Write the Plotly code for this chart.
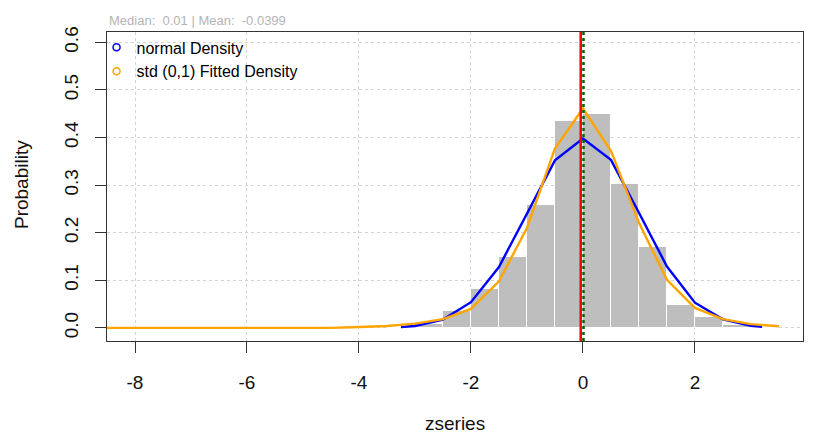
import plotly.graph_objects as go

# ---------------- data ----------------
bin_left = [-8.5, -3.5, -3.0, -2.5, -2.0, -1.5, -1.0, -0.5, 0.0, 0.5, 1.0, 1.5, 2.0, 2.5, 3.0]
bin_density = [0.001, 0.002, 0.008, 0.036, 0.082, 0.149, 0.259, 0.435, 0.449, 0.302, 0.169, 0.049, 0.022, 0.006, 0.002]
bin_width = 0.5

normal_x = [-3.25, -3.0, -2.5, -2.0, -1.5, -1.0, -0.5, 0.0, 0.5, 1.0, 1.5, 2.0, 2.5, 3.0, 3.2]
normal_y = [0.002, 0.004, 0.0175, 0.054, 0.128, 0.240, 0.352, 0.398, 0.353, 0.242, 0.129, 0.053, 0.018, 0.0045, 0.0024]

fitted_x = [-8.5, -4.5, -4.0, -3.5, -3.0, -2.5, -2.0, -1.5, -1.0, -0.5, 0.0, 0.5, 1.0, 1.5, 2.0, 2.5, 3.0, 3.5]
fitted_y = [0.0, 0.0, 0.002, 0.004, 0.009, 0.0185, 0.040, 0.098, 0.210, 0.377, 0.461, 0.372, 0.221, 0.101, 0.042, 0.0185, 0.008, 0.0035]

series_mean = -0.0399
series_median = 0.01

x_ticks = [-8, -6, -4, -2, 0, 2]
x_ticklabels = ["-8", "-6", "-4", "-2", "0", "2"]
y_ticks = [0.0, 0.1, 0.2, 0.3, 0.4, 0.5, 0.6]
y_ticklabels = ["0.0", "0.1", "0.2", "0.3", "0.4", "0.5", "0.6"]

FONT = "Liberation Sans, Arial, sans-serif"

fig = go.Figure()

fig.add_trace(go.Bar(
    x=bin_left, y=bin_density, width=bin_width, offset=0,
    marker=dict(color="#BEBEBE", line=dict(color="white", width=1)),
    showlegend=False, hoverinfo="skip",
))
fig.add_trace(go.Scatter(
    x=normal_x, y=normal_y, mode="lines",
    line=dict(color="#0000FF", width=2.4), showlegend=False,
))
fig.add_trace(go.Scatter(
    x=fitted_x, y=fitted_y, mode="lines",
    line=dict(color="#FFA500", width=2.4), showlegend=False,
))
# legend entries (open circles as in the reference)
fig.add_trace(go.Scatter(
    x=[None], y=[None], mode="markers", name="normal Density",
    marker=dict(symbol="circle-open", size=7, color="#0000FF", line=dict(width=1.5)),
))
fig.add_trace(go.Scatter(
    x=[None], y=[None], mode="markers", name="std (0,1) Fitted Density",
    marker=dict(symbol="circle-open", size=7, color="#FFA500", line=dict(width=1.5)),
))

# mean / median vertical lines
fig.add_shape(type="line", xref="x", yref="paper", x0=series_mean, x1=series_mean, y0=0, y1=1,
              line=dict(color="#FF0000", width=2.5), layer="above")
fig.add_shape(type="line", xref="x", yref="paper", x0=series_median, x1=series_median, y0=0, y1=1,
              line=dict(color="#006400", width=2.5, dash="dot"), layer="above")

# the page has an 8px body margin, so the figure is laid out 8px smaller/shifted
fig.update_layout(
    width=808, height=428,
    margin=dict(l=99, r=13, t=24, b=95),
    paper_bgcolor="white", plot_bgcolor="white",
    font=dict(family=FONT, color="black"),
    bargap=0,
    legend=dict(
        x=-0.015, y=1.005, xanchor="left", yanchor="top",
        bgcolor="rgba(0,0,0,0)", font=dict(size=16, color="black", family=FONT),
        itemwidth=30, tracegroupgap=0,
    ),
    xaxis=dict(
        range=[-8.5, 3.93], tickmode="array", tickvals=x_ticks, ticktext=x_ticklabels,
        ticks="outside", ticklen=11, tickcolor="#333", tickwidth=1,
        showline=True, linecolor="#333", linewidth=1.3, mirror=True,
        showgrid=True, gridcolor="#D3D3D3", griddash="dot", gridwidth=1,
        zeroline=False, tickfont=dict(size=19, family=FONT, color="#111"),
        ticklabelstandoff=13,
    ),
    yaxis=dict(
        range=[-0.0275, 0.6217], tickmode="array", tickvals=y_ticks, ticktext=y_ticklabels,
        ticks="outside", ticklen=11, tickcolor="#333", tickwidth=1,
        showline=True, linecolor="#333", linewidth=1.3, mirror=True,
        showgrid=True, gridcolor="#D3D3D3", griddash="dot", gridwidth=1,
        zeroline=False, tickangle=-90, tickfont=dict(size=19, family=FONT, color="#111"),
        ticklabelstandoff=9,
    ),
    annotations=[
        dict(text="Median:\u00a0 0.01 | Mean:\u00a0 -0.0399", xref="paper", yref="paper",
             x=0, y=1.0, xanchor="left", yanchor="bottom", yshift=2, showarrow=False,
             font=dict(size=13, color="#B4B4B4", family=FONT)),
        dict(text="zseries", xref="paper", yref="paper", x=0.5, y=-0.268,
             xanchor="center", yanchor="middle", showarrow=False,
             font=dict(size=19, color="#111", family=FONT)),
        dict(text="Probability", xref="paper", yref="paper", x=-0.122, y=0.505,
             xanchor="center", yanchor="middle", textangle=-90, showarrow=False,
             font=dict(size=19, color="#111", family=FONT)),
    ],
)

fig.write_html("out.html")
